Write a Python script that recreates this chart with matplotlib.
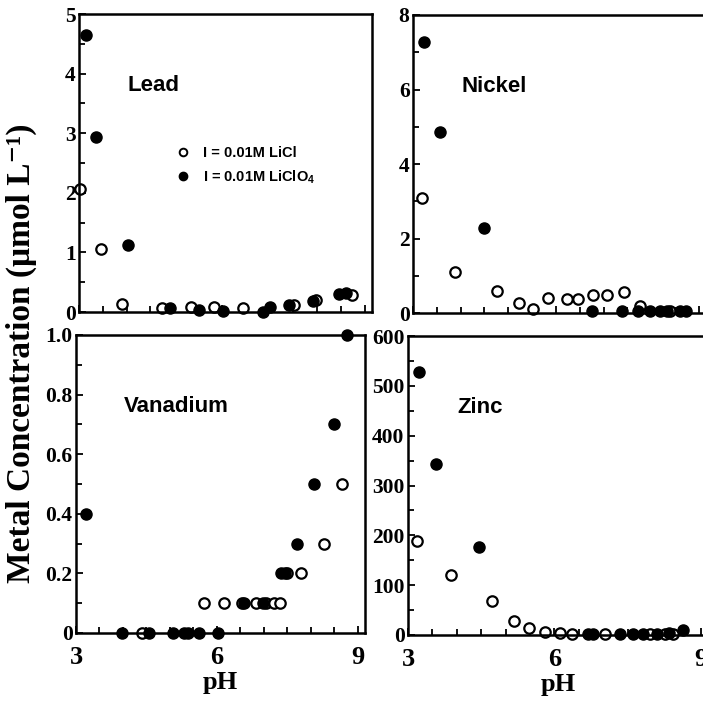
import matplotlib.pyplot as plt
from matplotlib.lines import Line2D

# Lead
pb_ph_cl = [3.03, 3.47, 3.91, 4.74, 5.35, 5.84, 6.44, 7.52, 7.98, 8.74]
pb_cl = [2.07, 1.06, 0.13, 0.07, 0.08, 0.08, 0.07, 0.12, 0.20, 0.28]
pb_ph_clo4 = [3.15, 3.36, 4.02, 4.90, 5.52, 6.03, 6.86, 7.00, 7.40, 7.92, 8.45, 8.60]
pb_clo4 = [4.65, 2.94, 1.12, 0.06, 0.03, 0.02, 0.00, 0.08, 0.12, 0.18, 0.30, 0.32]

# Nickel
ni_ph_cl = [3.19, 3.88, 4.76, 5.22, 5.52, 5.83, 6.23, 6.46, 6.77, 7.07, 7.42, 7.76, 8.39]
ni_cl = [3.09, 1.10, 0.59, 0.28, 0.10, 0.39, 0.38, 0.38, 0.47, 0.47, 0.57, 0.20, 0.05]
ni_ph_clo4 = [3.23, 3.57, 4.49, 6.75, 7.38, 7.72, 7.97, 8.18, 8.33, 8.60, 8.74]
ni_clo4 = [7.28, 4.87, 2.27, 0.05, 0.05, 0.05, 0.05, 0.05, 0.05, 0.05, 0.05]

# Vanadium
v_ph_cl = [4.40, 5.72, 6.15, 6.53, 6.83, 7.04, 7.21, 7.34, 7.49, 7.79, 8.28, 8.66]
v_cl = [0, 0.1, 0.1, 0.1, 0.1, 0.1, 0.1, 0.1, 0.2, 0.2, 0.3, 0.5]
v_ph_clo4 = [3.21, 3.98, 4.55, 5.06, 5.30, 5.38, 5.62, 6.02, 6.57, 6.98, 7.36, 7.44,
             7.70, 8.07, 8.49, 8.77]
v_clo4 = [0.4, 0, 0, 0, 0, 0, 0, 0, 0.1, 0.1, 0.2, 0.2, 0.3, 0.5, 0.7, 1.0]

# Zinc
zn_ph_cl = [3.18, 3.88, 4.72, 5.17, 5.48, 5.81, 6.11, 6.36, 7.04, 7.96, 8.27, 8.43]
zn_cl = [189, 120, 68, 28, 14, 6, 4, 3, 2, 2, 2, 2]
zn_ph_clo4 = [3.23, 3.57, 4.45, 6.69, 6.80, 7.34, 7.61, 7.82, 8.10, 8.35, 8.64]
zn_clo4 = [528, 343, 177, 2, 2, 2, 2, 2, 3, 4, 10]

serif = 'Liberation Serif'
sans = 'Liberation Sans'
plt.rcParams['mathtext.fontset'] = 'custom'
plt.rcParams['mathtext.sf'] = 'Liberation Sans:bold'

W, H = 703, 707
fig = plt.figure(figsize=(7.03, 7.07), dpi=100)


def box(l, t, r, b):
    return [l / W, 1 - b / H, (r - l) / W, (b - t) / H]


def panel(pos, ph_cl, y_cl, ph_clo4, y_clo4, ymax, ystep, ylabels, name, bottom):
    ax = fig.add_axes(box(*pos))
    ax.plot(ph_cl, y_cl, 'o', ms=7.5, mfc='white', mec='black', mew=1.6, clip_on=False)
    ax.plot(ph_clo4, y_clo4, 'o', ms=8, color='black', clip_on=False)
    ax.set_xlim(3, 9.15)
    ax.set_ylim(0, ymax)
    ax.set_xticks([3, 6, 9])
    ax.set_xticks([3.5, 4, 4.5, 5, 5.5, 6.5, 7, 7.5, 8, 8.5], minor=True)
    yt = [i * ystep for i in range(len(ylabels))]
    ax.set_yticks(yt)
    ax.set_yticklabels(ylabels, fontfamily=serif, fontweight='bold', fontsize=15.5)
    ax.set_yticks([v + ystep / 2 for v in yt[:-1]], minor=True)
    ax.tick_params(which='both', direction='in', width=1.3)
    ax.tick_params(which='major', length=5, pad=2.5)
    ax.tick_params(which='minor', length=4)
    for s in ax.spines.values():
        s.set_linewidth(1.8)
    if bottom:
        ax.set_xticklabels(['3', '6', '9'], fontfamily=serif, fontweight='bold', fontsize=19)
        ax.tick_params(axis='x', pad=9)
        ax.set_xlabel('pH', fontfamily=serif, fontweight='bold', fontsize=19, labelpad=2)
    else:
        ax.set_xticklabels([])
    ax.text(0.165, 0.76, name, transform=ax.transAxes, fontfamily=sans,
            fontweight='bold', fontsize=16, va='center', ha='left')
    return ax


ax1 = panel((79, 14, 372, 312), pb_ph_cl, pb_cl, pb_ph_clo4, pb_clo4, 5, 1,
            ['0', '1', '2', '3', '4', '5'], 'Lead', False)
ax2 = panel((413, 15, 706, 313), ni_ph_cl, ni_cl, ni_ph_clo4, ni_clo4, 8, 2,
            ['0', '2', '4', '6', '8'], 'Nickel', False)
ax3 = panel((76, 335, 365, 633), v_ph_cl, v_cl, v_ph_clo4, v_clo4, 1.0, 0.2,
            ['0', '0.2', '0.4', '0.6', '0.8', '1.0'], 'Vanadium', True)
ax4 = panel((408, 336, 708, 635), zn_ph_cl, zn_cl, zn_ph_clo4, zn_clo4, 600, 100,
            ['0', '100', '200', '300', '400', '500', '600'], 'Zinc', True)

handles = [
    Line2D([], [], ls='none', marker='o', ms=5.5, mfc='white', mec='black', mew=1.4),
    Line2D([], [], ls='none', marker='o', ms=6, color='black'),
]
ax1.legend(handles, ['I = 0.01M LiCl', 'I = 0.01M LiClO$_\\mathsf{4}$'], loc='upper left',
           bbox_to_anchor=(0.31, 0.575), frameon=False, handlelength=1.0,
           handletextpad=0.9, labelspacing=0.55, borderaxespad=0,
           prop={'family': sans, 'weight': 'bold', 'size': 10.5})

fig.text(0.031, 0.5, 'Metal Concentration (\u03bcmol L\u207b\u00b9)', rotation=90,
         va='center', ha='center', family=[serif, 'DejaVu Serif'], fontweight='bold',
         fontsize=24)

fig.savefig('out.png', dpi=100)
